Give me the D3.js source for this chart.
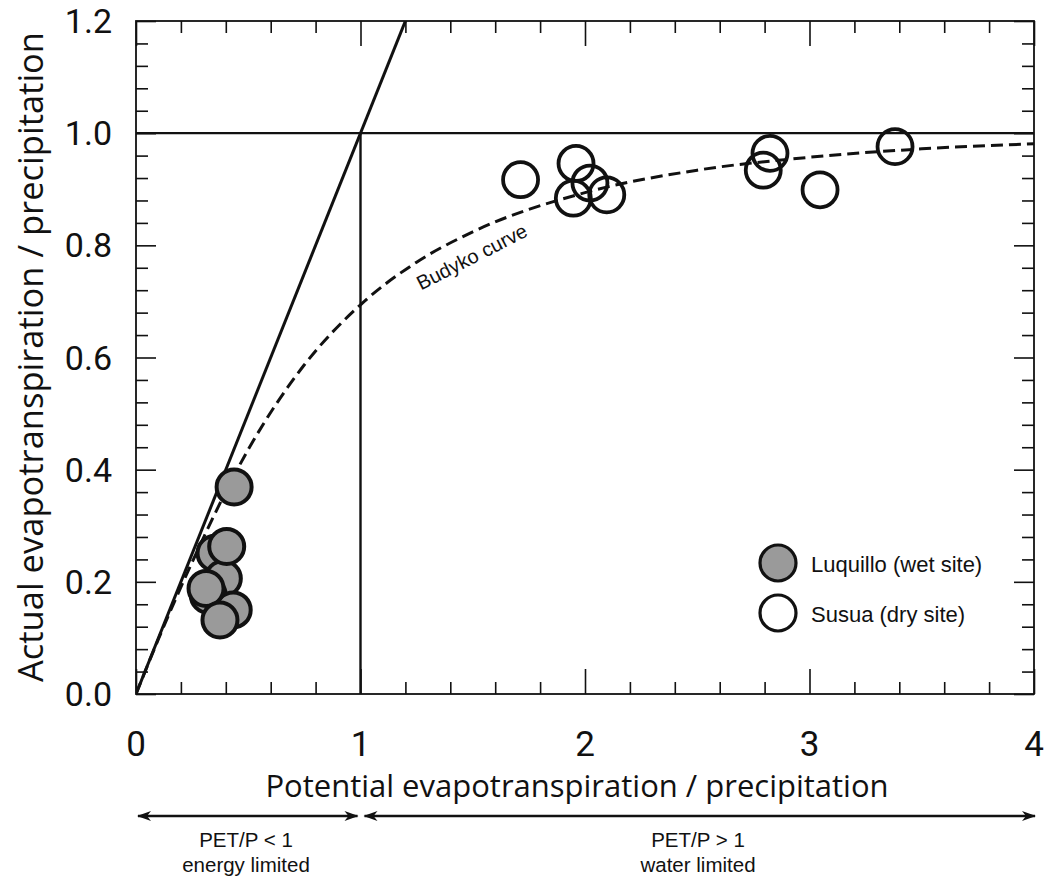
<!DOCTYPE html>
<html>
<head>
<meta charset="utf-8">
<script src="https://cdn.jsdelivr.net/npm/d3@7"></script>
<style>
  html, body { margin: 0; padding: 0; background: #fff; }
  svg { display: block; }
</style>
</head>
<body>
<svg id="chart" width="1049" height="880"></svg>
<script>
// ---- data ----
const xTickValues = [0, 1, 2, 3, 4];
const xTickLabels = ["0", "1", "2", "3", "4"];
const yTickValues = [0, 0.2, 0.4, 0.6, 0.8, 1.0, 1.2];
const yTickLabels = ["0.0", "0.2", "0.4", "0.6", "0.8", "1.0", "1.2"];

// Luquillo (wet site) - drawn back to front
const luquilloX = [0.352, 0.389, 0.322, 0.433, 0.437, 0.404, 0.312, 0.374];
const luquilloY = [0.251, 0.206, 0.176, 0.150, 0.369, 0.263, 0.188, 0.132];

// Susua (dry site)
const susuaX = [1.713, 1.960, 1.948, 2.097, 2.022, 2.824, 2.794, 3.047, 3.381];
const susuaY = [0.917, 0.946, 0.884, 0.890, 0.911, 0.964, 0.934, 0.899, 0.976];

// Budyko curve
const budykoX = [0, 0.1, 0.25, 0.5, 0.75, 1.0, 1.25, 1.5, 2.0, 2.5, 3.0, 3.5, 4.0];
const budykoY = [0, 0.098, 0.235, 0.436, 0.587, 0.694, 0.770, 0.824, 0.894, 0.934, 0.957, 0.972, 0.981];

const legendLabels = ["Luquillo (wet site)", "Susua (dry site)"];

// ---- layout ----
const svg = d3.select("#chart");
const L = 136, R = 1034, T = 21, B = 694;
const x = d3.scaleLinear().domain([0, 4]).range([L, R]);
const y = d3.scaleLinear().domain([0, 1.2]).range([B, T]);

const axisFont = "'Open Sans', 'Noto Sans', sans-serif";
const tickFont = "Roboto, 'Open Sans', sans-serif";
const labelFont = "'Liberation Sans', Arial, sans-serif";

// minor + major ticks via d3 axes (inward)
const xMinor = d3.range(0, 4.0001, 0.2).map(v => +v.toFixed(2));
const yMinor = d3.range(0, 1.2001, 0.04).map(v => +v.toFixed(2));
const isMajorX = v => Math.abs(v - Math.round(v)) < 1e-6;
const isMajorY = v => Math.abs(v * 5 - Math.round(v * 5)) < 1e-6;

function tickStyle(g) {
  g.select(".domain").remove();
  g.selectAll("text").remove();
  g.selectAll("line").attr("stroke", "#111").attr("stroke-width", 1.6);
}

svg.append("g").attr("transform", `translate(0,${B})`)
  .call(d3.axisBottom(x).tickValues(xMinor.filter(v => !isMajorX(v))).tickSizeInner(-12).tickSizeOuter(0)).call(tickStyle);
svg.append("g").attr("transform", `translate(0,${B})`)
  .call(d3.axisBottom(x).tickValues(xTickValues).tickSizeInner(-25).tickSizeOuter(0)).call(tickStyle);
svg.append("g").attr("transform", `translate(0,${T})`)
  .call(d3.axisTop(x).tickValues(xMinor.filter(v => !isMajorX(v))).tickSizeInner(-12).tickSizeOuter(0)).call(tickStyle);
svg.append("g").attr("transform", `translate(0,${T})`)
  .call(d3.axisTop(x).tickValues(xTickValues).tickSizeInner(-25).tickSizeOuter(0)).call(tickStyle);

svg.append("g").attr("transform", `translate(${L},0)`)
  .call(d3.axisLeft(y).tickValues(yMinor.filter(v => !isMajorY(v))).tickSizeInner(-12).tickSizeOuter(0)).call(tickStyle);
svg.append("g").attr("transform", `translate(${L},0)`)
  .call(d3.axisLeft(y).tickValues(yTickValues).tickSizeInner(-20).tickSizeOuter(0)).call(tickStyle);
svg.append("g").attr("transform", `translate(${R},0)`)
  .call(d3.axisRight(y).tickValues(yMinor.filter(v => !isMajorY(v))).tickSizeInner(-12).tickSizeOuter(0)).call(tickStyle);
svg.append("g").attr("transform", `translate(${R},0)`)
  .call(d3.axisRight(y).tickValues(yTickValues).tickSizeInner(-20).tickSizeOuter(0)).call(tickStyle);

// frame
svg.append("rect").attr("x", L).attr("y", T).attr("width", R - L).attr("height", B - T)
  .attr("fill", "none").attr("stroke", "#111").attr("stroke-width", 1.8);

// tick labels
svg.append("g").selectAll("text").data(xTickValues).join("text")
  .attr("x", d => x(d)).attr("y", 756)
  .attr("text-anchor", "middle")
  .attr("font-family", tickFont).attr("font-size", 35).attr("fill", "#111")
  .text((d, i) => xTickLabels[i]);
svg.append("g").selectAll("text").data(yTickValues).join("text")
  .attr("x", 112).attr("y", d => y(d) + 12)
  .attr("text-anchor", "end")
  .attr("font-family", tickFont).attr("font-size", 34).attr("fill", "#111")
  .text((d, i) => yTickLabels[i]);

// axis titles
svg.append("text").attr("x", 577).attr("y", 797).attr("text-anchor", "middle")
  .attr("font-family", axisFont).attr("font-size", 31).attr("fill", "#111")
  .text("Potential evapotranspiration / precipitation");
svg.append("text").attr("transform", "translate(43,357) rotate(-90)").attr("text-anchor", "middle")
  .attr("font-family", axisFont).attr("font-size", 34.5).attr("fill", "#111")
  .text("Actual evapotranspiration / precipitation");

// clip
svg.append("defs").append("clipPath").attr("id", "plotclip")
  .append("rect").attr("x", L).attr("y", T).attr("width", R - L).attr("height", B - T);
const plot = svg.append("g").attr("clip-path", "url(#plotclip)");

// reference lines
plot.append("line").attr("x1", x(0)).attr("y1", y(0)).attr("x2", x(1.3)).attr("y2", y(1.3))
  .attr("stroke", "#111").attr("stroke-width", 3);
plot.append("line").attr("x1", x(0)).attr("y1", y(1)).attr("x2", x(4)).attr("y2", y(1))
  .attr("stroke", "#111").attr("stroke-width", 2.4);
plot.append("line").attr("x1", x(1)).attr("y1", y(0)).attr("x2", x(1)).attr("y2", y(1))
  .attr("stroke", "#111").attr("stroke-width", 2.4);

// Budyko curve
const budyko = budykoX.map((v, i) => [v, budykoY[i]]);
plot.append("path").datum(budyko)
  .attr("d", d3.line().x(d => x(d[0])).y(d => y(d[1])).curve(d3.curveMonotoneX))
  .attr("fill", "none").attr("stroke", "#111").attr("stroke-width", 3)
  .attr("stroke-dasharray", "12,6");

svg.append("text").attr("transform", "translate(475,263) rotate(-27)")
  .attr("text-anchor", "middle")
  .attr("font-family", labelFont).attr("font-size", 20).attr("fill", "#111")
  .text("Budyko curve");

// points
const susua = susuaX.map((v, i) => [v, susuaY[i]]);
svg.append("g").selectAll("circle").data(susua).join("circle")
  .attr("cx", d => x(d[0])).attr("cy", d => y(d[1])).attr("r", 17.5)
  .attr("fill", "none").attr("stroke", "#111").attr("stroke-width", 3.8);

const luq = luquilloX.map((v, i) => [v, luquilloY[i]]);
svg.append("g").selectAll("circle").data(luq).join("circle")
  .attr("cx", d => x(d[0])).attr("cy", d => y(d[1])).attr("r", 17.5)
  .attr("fill", "#9a9a9a").attr("stroke", "#111").attr("stroke-width", 4);

// legend
const legend = svg.append("g");
legend.selectAll("circle").data(legendLabels).join("circle")
  .attr("cx", 778).attr("cy", (d, i) => 563 + i * 50).attr("r", 18)
  .attr("fill", (d, i) => i === 0 ? "#9a9a9a" : "#fff")
  .attr("stroke", "#111").attr("stroke-width", 3.2);
legend.selectAll("text").data(legendLabels).join("text")
  .attr("x", 811).attr("y", (d, i) => 572 + i * 50)
  .attr("font-family", labelFont).attr("font-size", 22).attr("fill", "#111")
  .text(d => d);

// bottom arrows
const defs = svg.select("defs");
defs.append("marker").attr("id", "ah").attr("viewBox", "-14 -6 16 12")
  .attr("refX", 0).attr("refY", 0).attr("markerWidth", 16).attr("markerHeight", 12)
  .attr("markerUnits", "userSpaceOnUse").attr("orient", "auto-start-reverse")
  .append("path").attr("d", "M1,0 L-13,-5 L-9,0 L-13,5 Z").attr("fill", "#111");

const arrowY = 816;
svg.append("line").attr("x1", x(0) + 2).attr("y1", arrowY).attr("x2", x(1) - 3).attr("y2", arrowY)
  .attr("stroke", "#111").attr("stroke-width", 2.5)
  .attr("marker-start", "url(#ah)").attr("marker-end", "url(#ah)");
svg.append("line").attr("x1", x(1) + 4).attr("y1", arrowY).attr("x2", x(4) + 1).attr("y2", arrowY)
  .attr("stroke", "#111").attr("stroke-width", 2.5)
  .attr("marker-start", "url(#ah)").attr("marker-end", "url(#ah)");

const notes = [
  { cx: 246, l1: "PET/P < 1", l2: "energy limited" },
  { cx: 698, l1: "PET/P > 1", l2: "water limited" }
];
notes.forEach(n => {
  svg.append("text").attr("x", n.cx).attr("y", 847).attr("text-anchor", "middle")
    .attr("font-family", labelFont).attr("font-size", 20.5).attr("fill", "#111").text(n.l1);
  svg.append("text").attr("x", n.cx).attr("y", 872).attr("text-anchor", "middle")
    .attr("font-family", labelFont).attr("font-size", 20.5).attr("fill", "#111").text(n.l2);
});
</script>
</body>
</html>
